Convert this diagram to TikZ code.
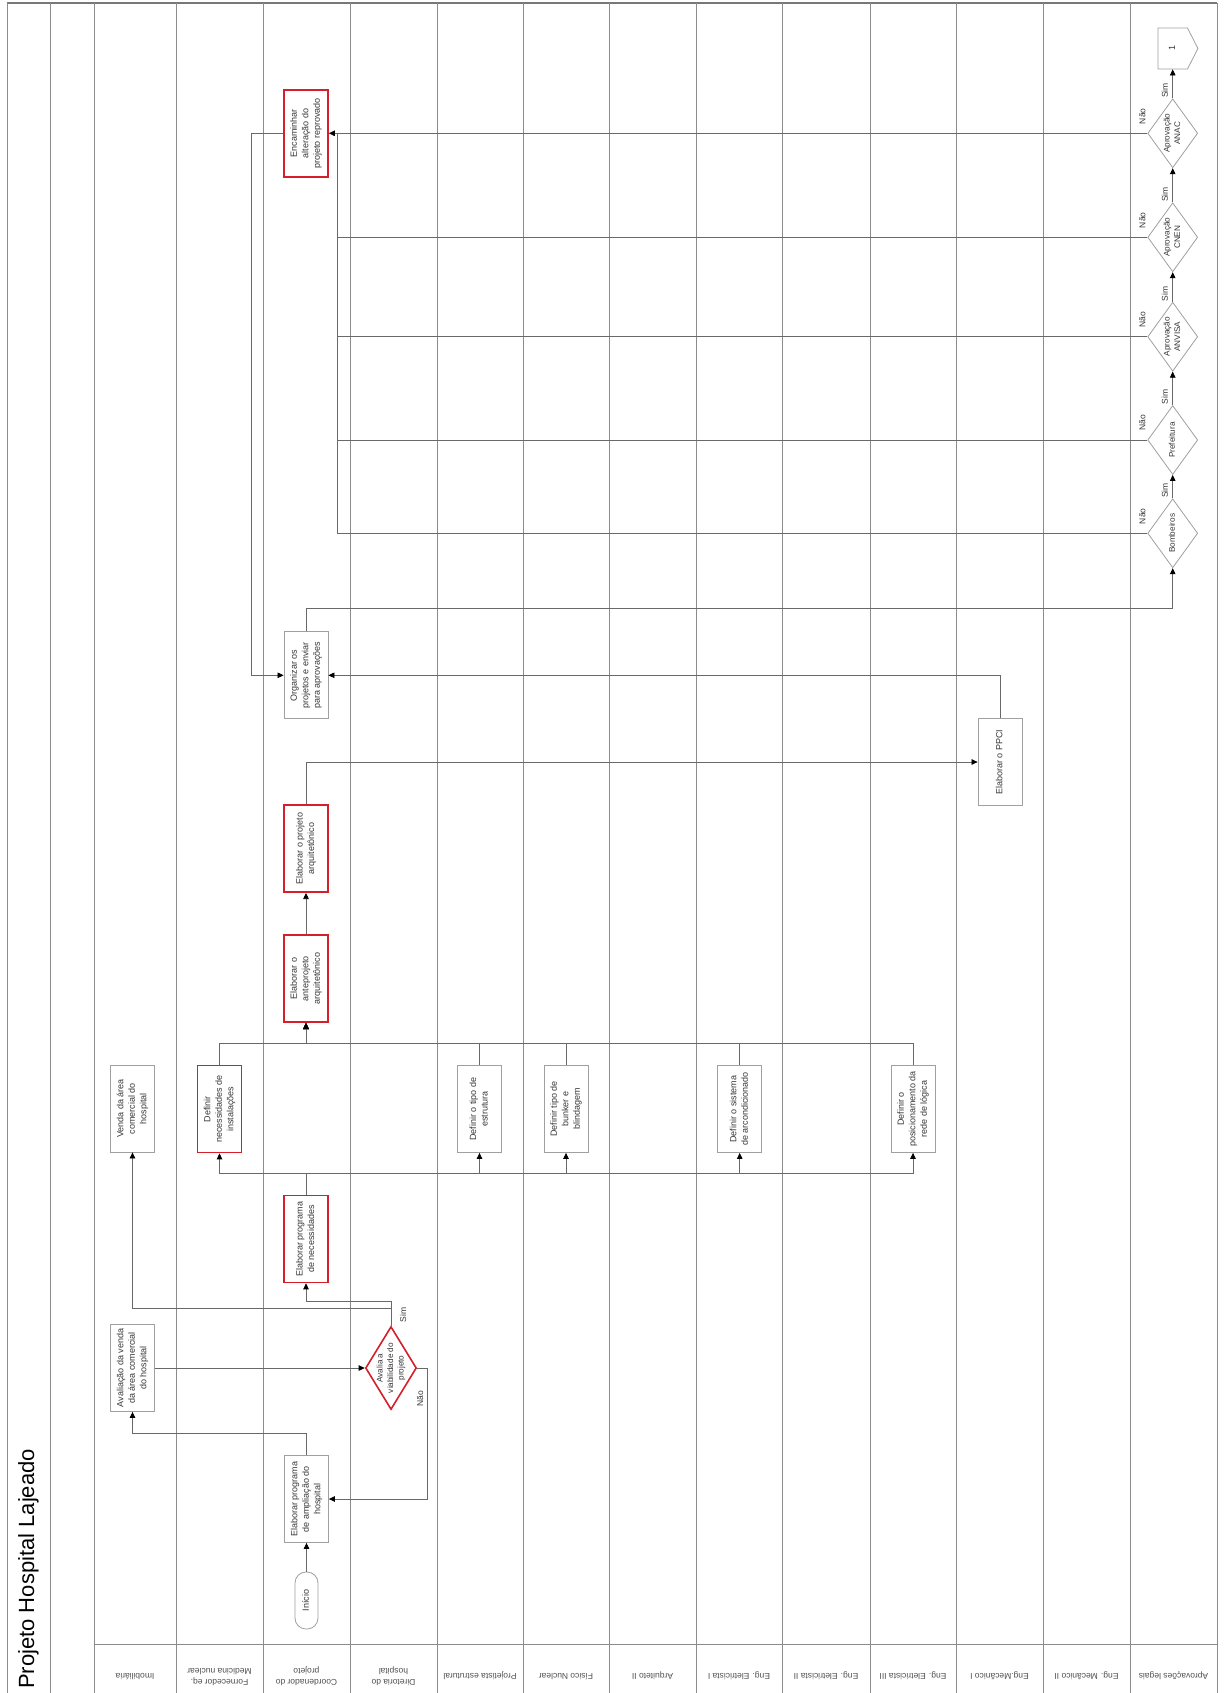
\documentclass[tikz,border=0pt]{standalone}
\usepackage{fontspec}
\setmainfont{Liberation Sans}
\usetikzlibrary{shapes.geometric,shapes.symbols,arrows.meta}
\definecolor{lanegray}{RGB}{140,140,140}
\definecolor{framegray}{RGB}{120,120,120}
\definecolor{boxgray}{RGB}{160,160,160}
\definecolor{linegray}{RGB}{105,105,105}
\definecolor{txtgray}{RGB}{55,55,55}
\definecolor{hdrgray}{RGB}{80,80,80}
\definecolor{redline}{RGB}{212,32,42}
\newcommand{\rt}[1]{\rotatebox{90}{\begin{tabular}{@{}c@{}}#1\end{tabular}}}
\newcommand{\rtt}[1]{\rotatebox{180}{\begin{tabular}{@{}c@{}}#1\end{tabular}}}
\tikzset{
  lane/.style={draw=lanegray, line width=0.8pt},
  frame/.style={draw=framegray, line width=1.1pt},
  box/.style={draw=boxgray, line width=0.8pt, fill=white, minimum width=44pt, minimum height=87pt, inner sep=0pt},
  redbox/.style={box, draw=redline, line width=1.6pt},
  startst/.style={draw=boxgray, line width=0.8pt, fill=white, rounded corners=11pt, minimum width=23pt, minimum height=57pt, inner sep=0pt},
  dia/.style={diamond, draw=boxgray, line width=0.8pt, fill=white, minimum width=50pt, minimum height=69pt, inner sep=0pt},
  reddia/.style={diamond, draw=redline, line width=1.6pt, fill=white, minimum width=51pt, minimum height=83pt, inner sep=0pt},
  offp/.style={signal, signal to=east, signal pointer angle=126, draw=boxgray, line width=0.8pt, fill=white, minimum width=40pt, minimum height=41pt, inner sep=0pt},
  conn/.style={draw=linegray, line width=0.7pt},
  arr/.style={conn, -{Triangle[length=6pt,width=5.5pt,color=black]}},
  lbl/.style={inner sep=0pt, font=\fontsize{8.5}{10}\selectfont},
  hdr/.style={inner sep=0pt, text=hdrgray, font=\fontsize{8.5}{10.5}\selectfont},
  diatxt/.style={inner sep=0pt, font=\fontsize{8.2}{10.5}\selectfont}
}
\begin{document}
\begin{tikzpicture}[x=1pt,y=-1pt, font=\fontsize{9}{11.5}\selectfont, text=txtgray]
\useasboundingbox (0,0) rectangle (1224,1693);
\fill[white] (0,0) rectangle (1224,1693);
% pool frame and lanes
\draw[frame] (7,3) -- (1217,3);
\draw[lane] (7,3) -- (7,1693);
\draw[lane] (1217,3) -- (1217,1693);
\draw[lane] (50.6,3) -- (50.6,1693);
\foreach \x in {94,176,263,350,437,523,609,696,782,870,956,1043,1130}
  \draw[lane] (\x,3) -- (\x,1693);
\draw[lane] (94,1644) -- (1217,1644);
% title
\node[anchor=south, inner sep=0pt, text=black, font=\fontsize{22}{26}\selectfont] (title) at (28.5,1689) {\rotatebox{90}{Projeto Hospital Lajeado}};
% lane headers
\node[hdr] (h1) at (135,1676) {\rtt{Imobiliária}};
\node[hdr] (h2) at (219.5,1676) {\rtt{Fornecedor eq.\\Medicina nuclear}};
\node[hdr] (h3) at (306.5,1676) {\rtt{Coordenador do\\projeto}};
\node[hdr] (h4) at (393.5,1676) {\rtt{Diretoria do\\hospital}};
\node[hdr] (h5) at (480,1676) {\rtt{Projetista estrutural}};
\node[hdr] (h6) at (566,1676) {\rtt{Físico Nuclear}};
\node[hdr] (h7) at (652.5,1676) {\rtt{Arquiteto II}};
\node[hdr] (h8) at (739,1676) {\rtt{Eng. Eletricista I}};
\node[hdr] (h9) at (826,1676) {\rtt{Eng. Eletricista II}};
\node[hdr] (h10) at (913,1676) {\rtt{Eng. Eletricista III}};
\node[hdr] (h11) at (999.5,1676) {\rtt{Eng.Mecânico I}};
\node[hdr] (h12) at (1086.5,1676) {\rtt{Eng. Mecânico II}};
\node[hdr] (h13) at (1173.5,1676) {\rtt{Aprovações legais}};
% nodes
\node[startst] (ini) at (306.5,1600.5) {\rt{Início}};
\node[box] (ampl) at (306.5,1499) {\rt{Elaborar programa\\de ampliação do\\hospital}};
\node[box] (aval) at (132.5,1368) {\rt{Avaliação da venda\\da área comercial\\do hospital}};
\node[reddia] (avdia) at (391,1368) {};
\node[diatxt] (avdiat) at (avdia.center) {\rt{Avalia a\\viabilidade do\\projeto}};
\node[redbox] (elnec) at (306,1239) {\rt{Elaborar programa\\de necessidades}};
\node[box] (venda) at (132.5,1108.5) {\rt{Venda da área\\comercial do\\hospital}};
\node[redbox] (defnec) at (219.5,1109) {\rt{Definir\\necessidades de\\instalações}};
\node[box] (estr) at (479.5,1109) {\rt{Definir o tipo de\\estrutura}};
\node[box] (bunk) at (566,1109) {\rt{Definir tipo de\\bunker e\\blindagem}};
\node[box] (arcond) at (739.7,1109) {\rt{Definir o sistema\\de arcondicionado}};
\node[box] (rede) at (913,1109) {\rt{Definir o\\posicionamento da\\rede de lógica}};
\node[redbox] (antep) at (306,978.7) {\rt{Elaborar o\\anteprojeto\\arquitetônico}};
\node[redbox] (arq) at (306,848.7) {\rt{Elaborar o projeto\\arquitetônico}};
\node[box] (ppci) at (1000,762) {\rt{Elaborar o PPCI}};
\node[box] (org) at (306,675.3) {\rt{Organizar os\\projetos e enviar\\para aprovações}};
\node[redbox] (enc) at (306,133.3) {\rt{Encaminhar\\alteração do\\projeto reprovado}};
% approval diamonds
\node[dia] (bomb) at (1172.7,533.3) {};
\node[diatxt] (bombt) at (bomb.center) {\rt{Bombeiros}};
\node[dia] (pref) at (1172.7,440) {};
\node[diatxt] (preft) at (pref.center) {\rt{Prefeitura}};
\node[dia] (anv) at (1172.7,336.7) {};
\node[diatxt] (anvt) at (anv.center) {\rt{Aprovação\\ANVISA}};
\node[dia] (cnen) at (1172.7,237.3) {};
\node[diatxt] (cnent) at (cnen.center) {\rt{Aprovação\\CNEN}};
\node[dia] (anac) at (1172.7,133.3) {};
\node[diatxt] (anact) at (anac.center) {\rt{Aprovação\\ANAC}};
\node[offp] (off) at (1172.7,48.5) {\rt{1}};
\coordinate (nj) at (337.3,133.3);
% connectors
\draw[arr] (ini.north) -- (ampl.south);
\draw[arr] (ampl.north) -- ++(0,-22) -| (aval.south);
\draw[arr] (aval.east) -- (avdia.west);
\draw[arr] (avdia.north) -- ++(0,-24) -| (elnec.south);
\draw[arr] (avdia.north) -- ++(0,-17) -| (venda.south);
\draw[arr] (avdia.east) -- ++(10,0) |- (ampl.east);
\node[lbl] (simav) at (403,1315) {\rotatebox{90}{Sim}};
\node[lbl] (naoav) at (420,1399) {\rotatebox{90}{Não}};
\draw[arr] (elnec.north) -- ++(0,-21) -| (defnec.south);
\draw[arr] (elnec.north) -- ++(0,-21) -| (estr.south);
\draw[arr] (elnec.north) -- ++(0,-21) -| (bunk.south);
\draw[arr] (elnec.north) -- ++(0,-21) -| (arcond.south);
\draw[arr] (elnec.north) -- ++(0,-21) -| (rede.south);
\draw[arr] (defnec.north) -- ++(0,-21.7) -| (antep.south);
\draw[arr] (estr.north) -- ++(0,-21.7) -| (antep.south);
\draw[arr] (bunk.north) -- ++(0,-21.7) -| (antep.south);
\draw[arr] (arcond.north) -- ++(0,-21.7) -| (antep.south);
\draw[arr] (rede.north) -- ++(0,-21.7) -| (antep.south);
\draw[arr] (antep.north) -- (arq.south);
\draw[arr] (arq.north) |- (ppci.west);
\draw[arr] (ppci.north) |- (org.east);
\draw[arr] (org.north) -- ++(0,-22.7) -| (bomb.south);
\draw[arr] (bomb.north) -- (pref.south);
\draw[arr] (pref.north) -- (anv.south);
\draw[arr] (anv.north) -- (cnen.south);
\draw[arr] (cnen.north) -- (anac.south);
\draw[arr] (anac.north) -- (off.south);
\draw[arr] (anac.west) -- (enc.east);
\draw[conn] (cnen.west) -| (nj);
\draw[conn] (anv.west) -| (nj);
\draw[conn] (pref.west) -| (nj);
\draw[conn] (bomb.west) -| (nj);
\draw[arr] (enc.west) -- ++(-32.3,0) |- (org.west);
% Sim / Nao labels on approvals
\foreach \d in {bomb,pref,anv,cnen,anac}{
  \node[lbl] (sim\d) at ([shift={(-8,-8)}]\d.north) {\rotatebox{90}{Sim}};
  \node[lbl] (nao\d) at ([shift={(-5,-17)}]\d.west) {\rotatebox{90}{Não}};
}
\end{tikzpicture}
\end{document}
